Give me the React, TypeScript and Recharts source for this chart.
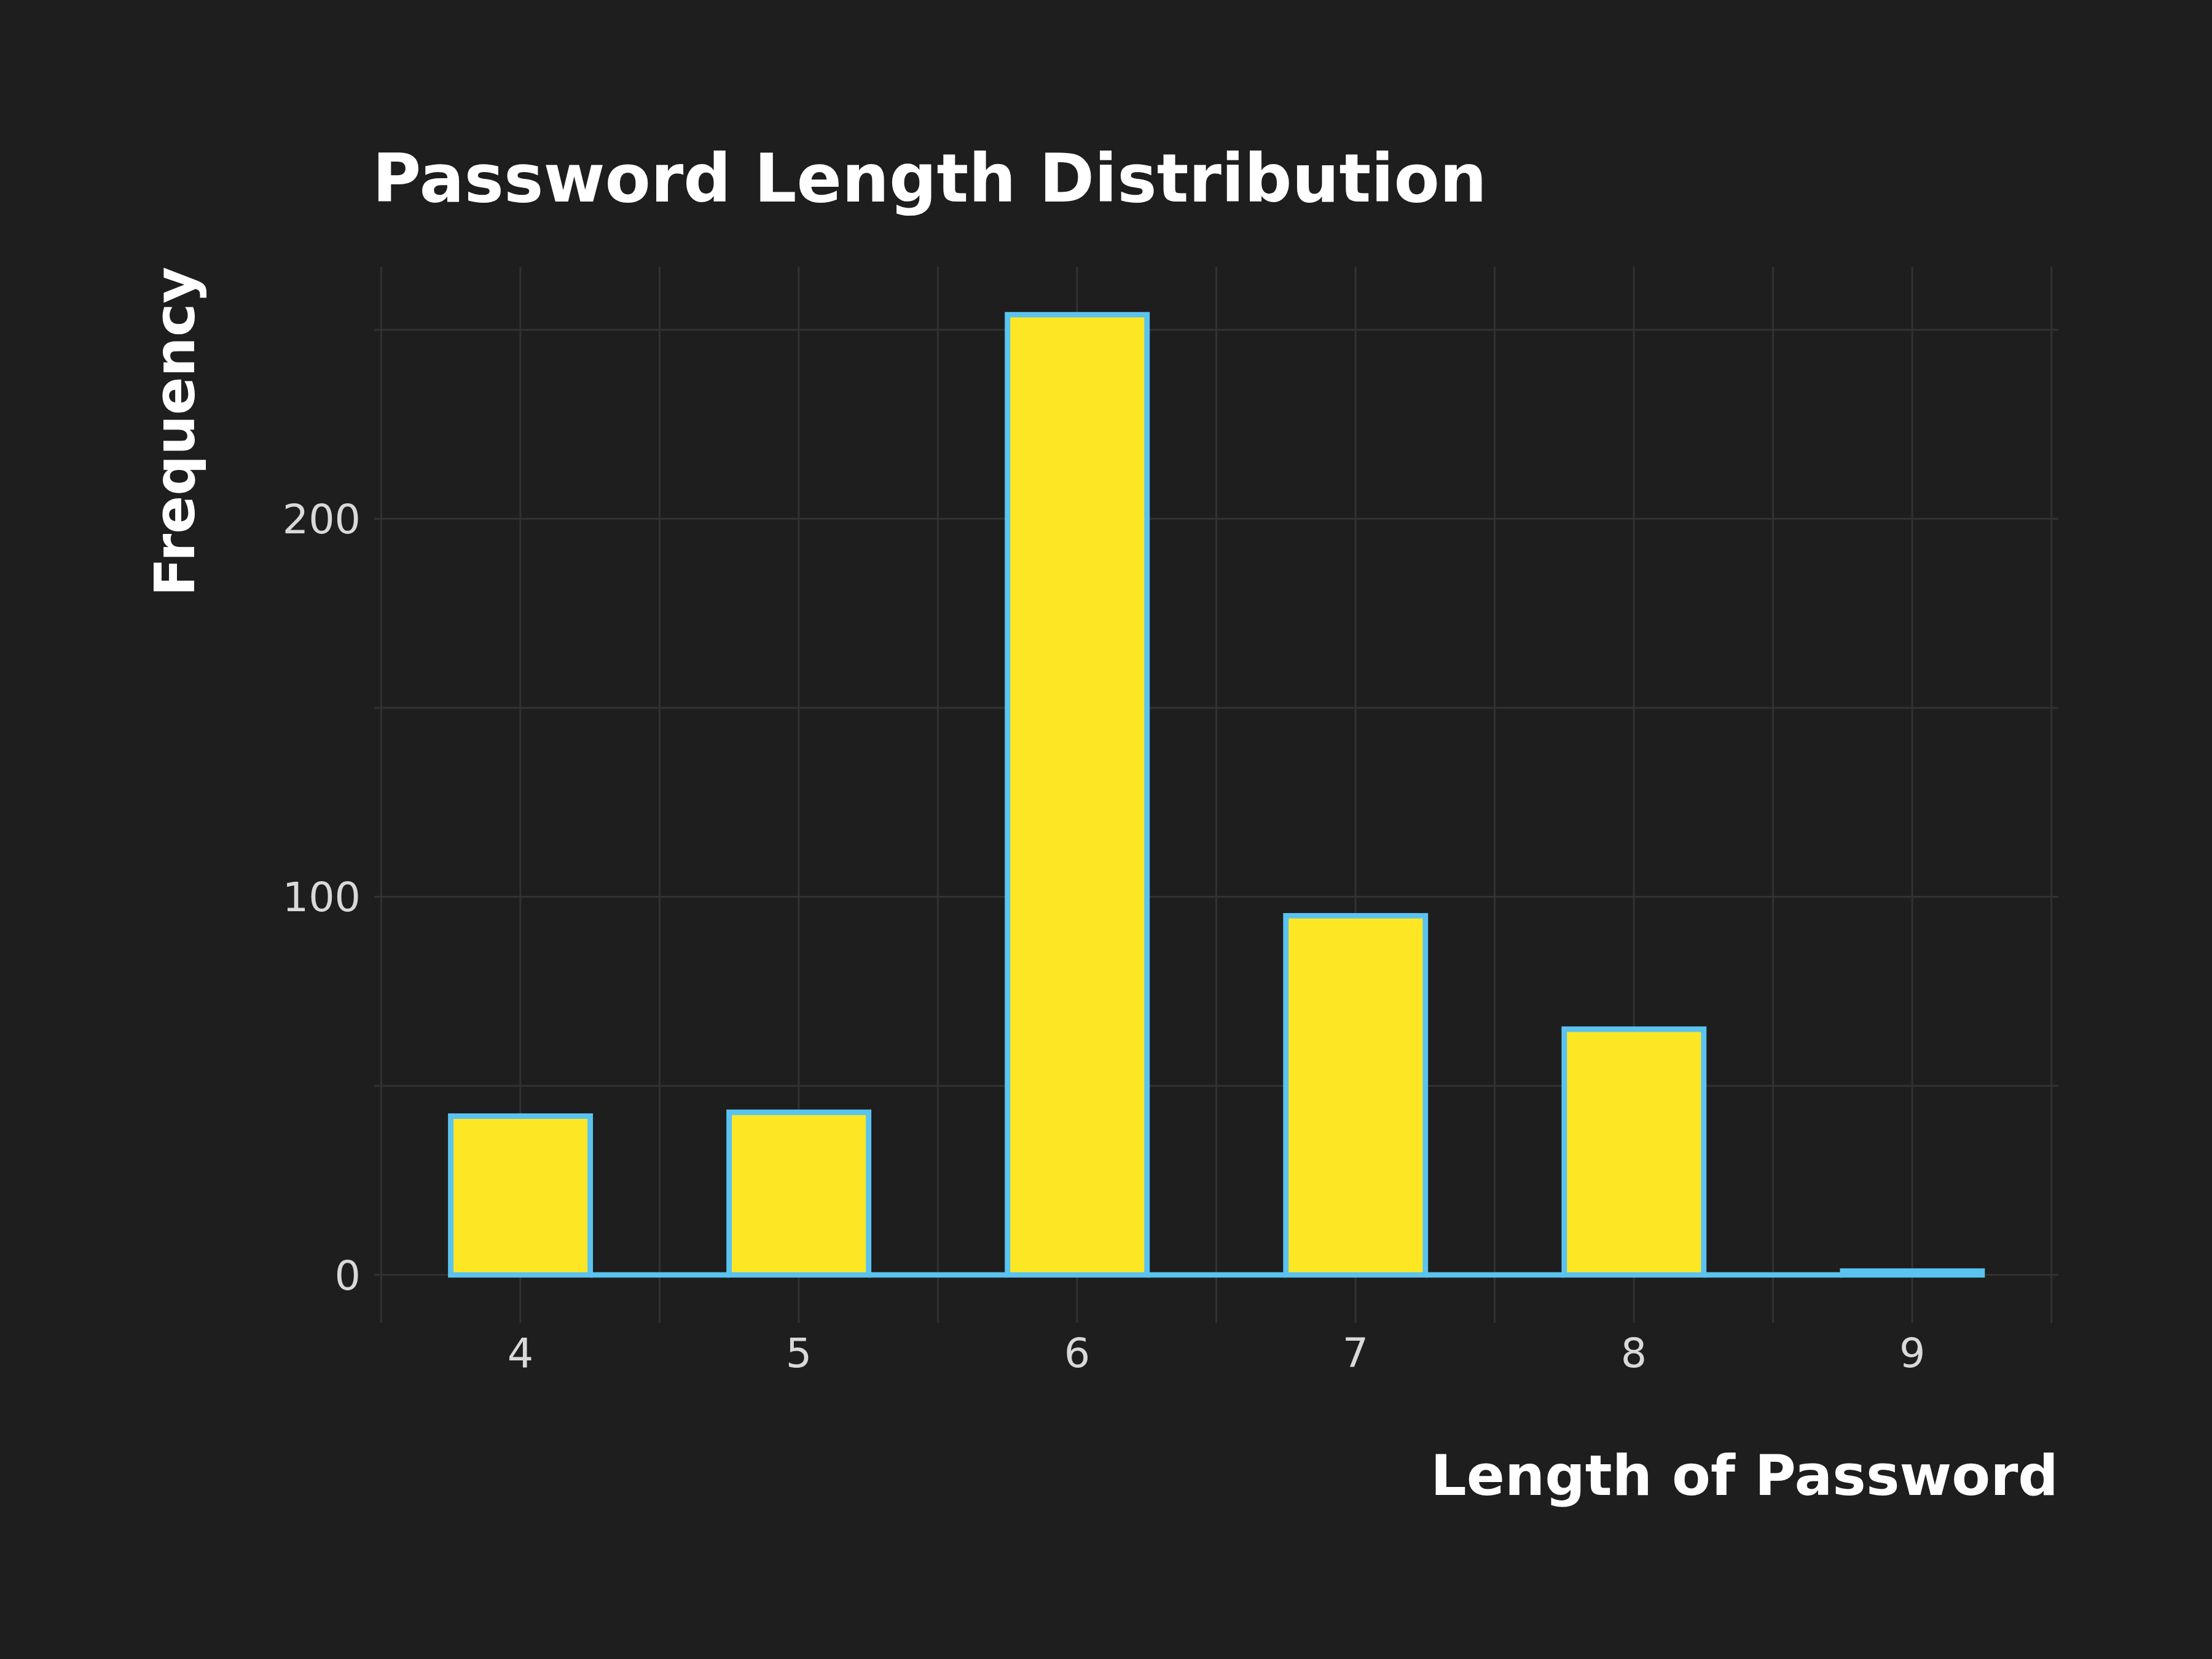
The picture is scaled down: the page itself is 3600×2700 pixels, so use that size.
import { Bar, BarChart, CartesianGrid, XAxis, YAxis } from "recharts"

// histogram bins (centre of each 0.5-wide bin) and their counts
const binCentres = [4, 4.5, 5, 5.5, 6, 6.5, 7, 7.5, 8, 8.5, 9]
const counts = [42, 0, 43, 0, 254, 0, 95, 0, 65, 0, 1]
const xTicks = [3.5, 4, 4.5, 5, 5.5, 6, 6.5, 7, 7.5, 8, 8.5, 9, 9.5]
const yTicks = [0, 50, 100, 150, 200, 250]
const labelledY = [0, 100, 200]

const data = binCentres.map((x, i) => ({ x, count: counts[i] }))

const BG = "#1e1e1e"
const GRID = "#323232"
const FILL = "#fde725"
const EDGE = "#5bc3f0"
const FONT = "DejaVu Sans"

// ggplot-ish expansion of 5% on each side
const binWidth = 0.5
const xMin = Math.min(...binCentres) - binWidth / 2
const xMax = Math.max(...binCentres) + binWidth / 2
const xPad = (xMax - xMin) * 0.05
const yMax = Math.max(...counts)

// rect drawn as a path so empty bins still show their outline
function HistBar(props: any) {
  const { x, y, width, height } = props
  return (
    <path
      d={`M${x},${y} h${width} v${height} h${-width} Z`}
      fill={FILL}
      stroke={EDGE}
      strokeWidth={8.9}
      strokeLinejoin="miter"
    />
  )
}

export default function App() {
  return (
    <div style={{ position: "absolute", left: 0, top: 0, width: 3600, height: 2700, background: BG }}>
      <BarChart
        width={3600}
        height={2700}
        data={data}
        margin={{ top: 434, right: 250, bottom: 447, left: 409 }}
        barCategoryGap={0}
        barGap={0}
      >
        <CartesianGrid stroke={GRID} strokeWidth={3} syncWithTicks />
        <XAxis
          dataKey="x"
          type="number"
          domain={[xMin - xPad, xMax + xPad]}
          ticks={xTicks}
          interval={0}
          height={100}
          axisLine={false}
          tickLine={false}
          tickSize={0}
          tickMargin={25}
          tickFormatter={(v: number) => (Number.isInteger(v) ? String(v) : "")}
          tick={{ fill: "#d9d9d9", fontSize: 66.7, fontFamily: FONT }}
        />
        <YAxis
          type="number"
          domain={[-yMax * 0.05, yMax * 1.05]}
          ticks={yTicks}
          interval={0}
          width={200}
          axisLine={false}
          tickLine={false}
          tickSize={0}
          tickMargin={22}
          tickFormatter={(v: number) => (labelledY.includes(v) ? String(v) : "")}
          tick={{ fill: "#d9d9d9", fontSize: 66.7, fontFamily: FONT }}
        />
        <Bar dataKey="count" shape={HistBar} isAnimationActive={false} />
      </BarChart>
      <svg
        width={3600}
        height={2700}
        style={{ position: "absolute", left: 0, top: 0, pointerEvents: "none" }}
      >
        <text x={606} y={328} fill="#ffffff" fontFamily={FONT} fontWeight="bold" fontSize={108.3}>
          Password Length Distribution
        </text>
        <text
          x={316}
          y={434}
          fill="#ffffff"
          fontFamily={FONT}
          fontWeight="bold"
          fontSize={91.7}
          textAnchor="end"
          transform="rotate(-90, 316, 434)"
        >
          Frequency
        </text>
        <text x={3350} y={2433} fill="#ffffff" fontFamily={FONT} fontWeight="bold" fontSize={91.7} textAnchor="end">
          Length of Password
        </text>
      </svg>
    </div>
  )
}
